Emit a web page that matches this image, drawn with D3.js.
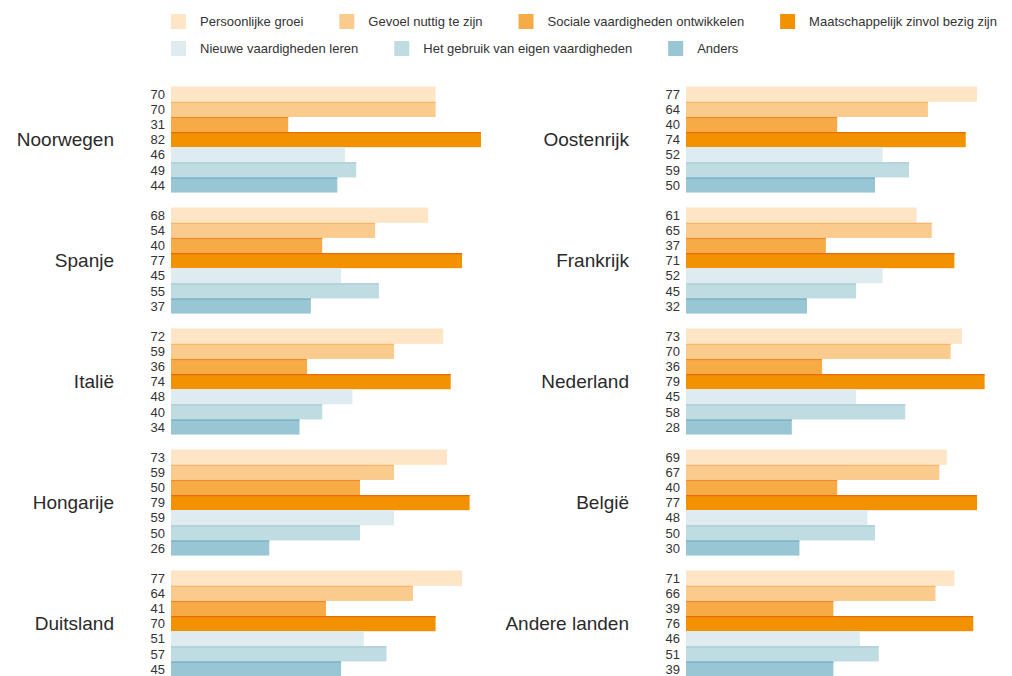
<!DOCTYPE html>
<html>
<head>
  <meta charset="utf-8">
  <script src="https://d3js.org/d3.v7.min.js"></script>
  <style>
    body { margin: 0; background: #fff; }
    svg text { font-family: "Liberation Sans", Arial, sans-serif; }
  </style>
</head>
<body>
<script>
  // categories (legend order = bar order inside a country)
  var categories = [
    "Persoonlijke groei",
    "Gevoel nuttig te zijn",
    "Sociale vaardigheden ontwikkelen",
    "Maatschappelijk zinvol bezig zijn",
    "Nieuwe vaardigheden leren",
    "Het gebruik van eigen vaardigheden",
    "Anders"
  ];
  var fills   = ["#fee5c6", "#fbcb8d", "#f6ab46", "#f39200", "#deecf0", "#bfdce2", "#98c6d4"];
  var edges   = ["#fee5c6", "#f7b56c", "#ef8b2c", "#e8690c", "#deecf0", "#a8cad3", "#76adbe"];

  // left column
  var leftCountries = ["Noorwegen", "Spanje", "Italië", "Hongarije", "Duitsland"];
  var leftValues = [
    [70, 70, 31, 82, 46, 49, 44],
    [68, 54, 40, 77, 45, 55, 37],
    [72, 59, 36, 74, 48, 40, 34],
    [73, 59, 50, 79, 59, 50, 26],
    [77, 64, 41, 70, 51, 57, 45]
  ];

  // right column
  var rightCountries = ["Oostenrijk", "Frankrijk", "Nederland", "België", "Andere landen"];
  var rightValues = [
    [77, 64, 40, 74, 52, 59, 50],
    [61, 65, 37, 71, 52, 45, 32],
    [73, 70, 36, 79, 45, 58, 28],
    [69, 67, 40, 77, 48, 50, 30],
    [71, 66, 39, 76, 46, 51, 39]
  ];

  var width = 1012, height = 676;

  var svg = d3.select("body").append("svg")
      .attr("width", width)
      .attr("height", height);

  // legend, two rows
  var legendRows = [[0, 1, 2, 3], [4, 5, 6]];
  legendRows.forEach(function (row, r) {
    var x = 171;
    row.forEach(function (ci) {
      var g = svg.append("g").attr("transform", "translate(" + x + "," + (14 + r * 27) + ")");
      g.append("rect").attr("width", 15).attr("height", 15).attr("fill", fills[ci]);
      var t = g.append("text")
          .attr("x", 29).attr("y", 12)
          .style("font-size", "13px")
          .attr("fill", "#333")
          .text(categories[ci]);
      x += 29 + t.node().getComputedTextLength() + 36;
    });
  });

  // shared vertical scales
  var y0 = d3.scaleBand()
      .domain(d3.range(5))
      .range([86.7, 691.7])
      .paddingInner(0.125)
      .paddingOuter(0.0625)
      .align(0);

  var y1 = d3.scaleBand()
      .domain(categories)
      .range([0, y0.bandwidth()]);

  function panel(countries, values, x0, labelRight) {
    var x = d3.scaleLinear().domain([0, 100]).range([x0, x0 + 378]);

    var groups = svg.selectAll(null)
        .data(countries.map(function (c, i) { return {name: c, vals: values[i], i: i}; }))
        .enter().append("g")
        .attr("transform", function (d) { return "translate(0," + y0(d.i) + ")"; });

    groups.append("text")
        .attr("x", labelRight)
        .attr("y", y1(categories[3]) + y1.bandwidth() / 2)
        .attr("dy", "0.36em")
        .attr("text-anchor", "end")
        .style("font-size", "19px")
        .attr("fill", "#2a2a2a")
        .text(function (d) { return d.name; });

    var rows = groups.selectAll(".row")
        .data(function (d) { return d.vals.map(function (v, k) { return {v: v, k: k}; }); })
        .enter().append("g").attr("class", "row");

    rows.append("rect")
        .attr("x", x(0))
        .attr("y", function (d) { return y1(categories[d.k]); })
        .attr("width", function (d) { return x(d.v) - x(0); })
        .attr("height", y1.bandwidth())
        .attr("fill", function (d) { return fills[d.k]; });

    rows.append("rect")
        .attr("x", x(0))
        .attr("y", function (d) { return y1(categories[d.k]); })
        .attr("width", function (d) { return x(d.v) - x(0); })
        .attr("height", 1.2)
        .attr("fill", function (d) { return edges[d.k]; });

    rows.append("text")
        .attr("x", x0 - 6)
        .attr("y", function (d) { return y1(categories[d.k]) + y1.bandwidth() / 2; })
        .attr("dy", "0.36em")
        .attr("text-anchor", "end")
        .style("font-size", "13px")
        .attr("fill", "#333")
        .text(function (d) { return d.v; });
  }

  panel(leftCountries, leftValues, 171, 114);
  panel(rightCountries, rightValues, 686, 629);
</script>
</body>
</html>
